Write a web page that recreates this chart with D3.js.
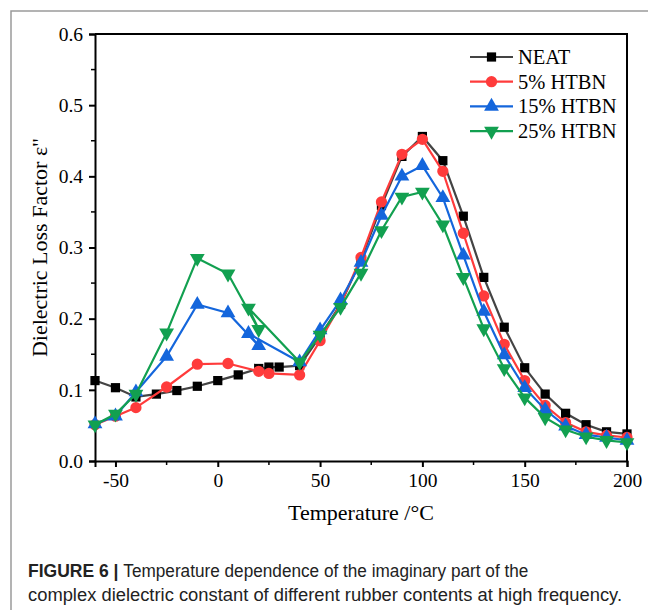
<!DOCTYPE html>
<html>
<head>
<meta charset="utf-8">
<script src="https://cdn.jsdelivr.net/npm/d3@7"></script>
<style>
  body { margin: 0; background: #fff; }
  svg { display: block; }
</style>
</head>
<body>
<svg id="chart" width="648" height="610"></svg>
<script>
// temperatures and loss factor values
var tempsNeat = [-60, -50, -40, -30, -20, -10, 0, 10, 20, 25, 30, 40, 50, 60, 70, 80, 90, 100, 110, 120, 130, 140, 150, 160, 170, 180, 190, 200];
var valsNeat = [0.113, 0.103, 0.090, 0.094, 0.099, 0.105, 0.113, 0.121, 0.130, 0.132, 0.132, 0.134, 0.175, 0.220, 0.283, 0.359, 0.428, 0.456, 0.422, 0.344, 0.258, 0.188, 0.131, 0.094, 0.067, 0.051, 0.041, 0.038];

var temps5 = [-60, -50, -40, -25, -10, 5, 20, 25, 40, 50, 60, 70, 80, 90, 100, 110, 120, 130, 140, 150, 160, 170, 180, 190, 200];
var vals5 = [0.051, 0.063, 0.075, 0.104, 0.136, 0.137, 0.126, 0.123, 0.121, 0.169, 0.220, 0.286, 0.364, 0.431, 0.452, 0.407, 0.320, 0.232, 0.164, 0.113, 0.078, 0.054, 0.041, 0.036, 0.033];

var temps15 = [-60, -50, -40, -25, -10, 5, 20, 15, 40, 50, 60, 70, 80, 90, 100, 110, 120, 130, 140, 150, 160, 170, 180, 190, 200];
var vals15 = [0.052, 0.063, 0.097, 0.147, 0.220, 0.208, 0.162, 0.179, 0.139, 0.184, 0.226, 0.279, 0.345, 0.400, 0.415, 0.370, 0.289, 0.210, 0.149, 0.103, 0.072, 0.049, 0.037, 0.033, 0.029];

var temps25 = [-60, -50, -40, -25, -10, 5, 20, 15, 40, 50, 60, 70, 80, 90, 100, 110, 120, 130, 140, 150, 160, 170, 180, 190, 200];
var vals25 = [0.051, 0.066, 0.094, 0.180, 0.285, 0.263, 0.185, 0.215, 0.139, 0.177, 0.216, 0.264, 0.324, 0.371, 0.378, 0.332, 0.258, 0.186, 0.130, 0.089, 0.061, 0.044, 0.034, 0.029, 0.026];

var seriesNames = ["NEAT", "5% HTBN", "15% HTBN", "25% HTBN"];
var xTicks = [-50, 0, 50, 100, 150, 200];
var yTicks = [0.0, 0.1, 0.2, 0.3, 0.4, 0.5, 0.6];

var series = [
    {name: seriesNames[0], t: tempsNeat, v: valsNeat, color: "#000000", line: "#444444", sym: d3.symbolSquare, size: 85, rot: 0},
    {name: seriesNames[1], t: temps5, v: vals5, color: "#FF3B3B", line: "#FF3B3B", sym: d3.symbolCircle, size: 100, rot: 0},
    {name: seriesNames[2], t: temps15, v: vals15, color: "#1466DC", line: "#1466DC", sym: d3.symbolTriangle, size: 95, rot: 0},
    {name: seriesNames[3], t: temps25, v: vals25, color: "#12A050", line: "#12A050", sym: d3.symbolTriangle, size: 95, rot: 180}
];

var svg = d3.select("#chart");
var pLeft = 95, pRight = 627, pTop = 34, pBottom = 461;

// page frame
svg.append("path")
    .attr("d", "M11,610 L11,11 L648,11")
    .attr("fill", "none")
    .attr("stroke", "#9a9a9a")
    .attr("stroke-width", 1.5);

var x = d3.scaleLinear().domain([-60, 200]).range([pLeft, pRight]);
var y = d3.scaleLinear().domain([0, 0.6]).range([pBottom, pTop]);

var serif = "'Liberation Serif', 'Times New Roman', serif";

// axes
var xAxis = d3.axisBottom(x).tickValues(xTicks).tickSize(6).tickPadding(6)
    .tickFormat(function(d) { return String(d); });
var gx = svg.append("g").attr("transform", "translate(0," + pBottom + ")").call(xAxis);
gx.selectAll("line").attr("stroke-width", 2);
// minor ticks
gx.selectAll(".minor").data([-25, 25, 75, 125, 175]).enter().append("line")
    .attr("class", "minor")
    .attr("x1", function(d) { return x(d); }).attr("x2", function(d) { return x(d); })
    .attr("y1", 0).attr("y2", 4)
    .attr("stroke", "#000").attr("stroke-width", 1.5);

var yAxis = d3.axisLeft(y).tickValues(yTicks).tickSize(6).tickPadding(6).tickFormat(d3.format(".1f"));
var gy = svg.append("g").attr("transform", "translate(" + pLeft + ",0)").call(yAxis);
gy.selectAll("line").attr("stroke-width", 2);
gy.selectAll(".minor").data([0.05, 0.15, 0.25, 0.35, 0.45, 0.55]).enter().append("line")
    .attr("class", "minor")
    .attr("y1", function(d) { return y(d); }).attr("y2", function(d) { return y(d); })
    .attr("x1", 0).attr("x2", -4)
    .attr("stroke", "#000").attr("stroke-width", 1.5);

[gx, gy].forEach(function(g) {
    g.select(".domain").attr("stroke-width", 2);
    g.selectAll("text").attr("font-family", serif).attr("font-size", 19.5).attr("fill", "#000");
});

// top and right frame lines
svg.append("path")
    .attr("d", "M" + pLeft + "," + pTop + " L" + pRight + "," + pTop + " L" + pRight + "," + pBottom)
    .attr("fill", "none").attr("stroke", "#000").attr("stroke-width", 2);

// lines and markers
var line = d3.line()
    .x(function(d) { return x(d[0]); })
    .y(function(d) { return y(d[1]); });

series.forEach(function(s) {
    var pts = s.t.map(function(t, i) { return [t, s.v[i]]; });
    svg.append("path")
        .datum(pts)
        .attr("d", line)
        .attr("fill", "none")
        .attr("stroke", s.line)
        .attr("stroke-width", 2.2);
    svg.selectAll(null).data(pts).enter().append("path")
        .attr("d", d3.symbol().type(s.sym).size(s.size))
        .attr("transform", function(d) { return "translate(" + x(d[0]) + "," + y(d[1]) + ") rotate(" + s.rot + ")"; })
        .attr("fill", s.color);
});

// legend
var legend = svg.append("g").attr("transform", "translate(470,57)");
series.forEach(function(s, i) {
    var g = legend.append("g").attr("transform", "translate(0," + (i * 24.7) + ")");
    g.append("line").attr("x1", 0).attr("x2", 43).attr("y1", 0).attr("y2", 0)
        .attr("stroke", s.line).attr("stroke-width", 2.2);
    g.append("path")
        .attr("d", d3.symbol().type(s.sym).size(s.size))
        .attr("transform", "translate(21.5,0) rotate(" + s.rot + ")")
        .attr("fill", s.color);
    g.append("text").attr("x", 48).attr("y", 7)
        .attr("font-family", serif).attr("font-size", 20.5)
        .text(s.name);
});

// axis titles
svg.append("text")
    .attr("x", (pLeft + pRight) / 2).attr("y", 520)
    .attr("text-anchor", "middle")
    .attr("font-family", serif).attr("font-size", 22)
    .text("Temperature /°C");

svg.append("text")
    .attr("transform", "translate(47," + ((pTop + pBottom) / 2) + ") rotate(-90)")
    .attr("text-anchor", "middle")
    .attr("font-family", serif).attr("font-size", 22)
    .text("Dielectric Loss Factor ε\"");

// caption
var cap = svg.append("text")
    .attr("font-family", "'Liberation Sans', Arial, sans-serif")
    .attr("font-size", 17.5).attr("fill", "#222");
var l1 = cap.append("tspan").attr("x", 28).attr("y", 577);
l1.append("tspan").attr("font-weight", "bold").text("FIGURE 6 | ");
l1.append("tspan").attr("textLength", 405).attr("lengthAdjust", "spacingAndGlyphs")
    .text("Temperature dependence of the imaginary part of the");
cap.append("tspan").attr("x", 28).attr("y", 601)
    .attr("textLength", 594).attr("lengthAdjust", "spacingAndGlyphs")
    .text("complex dielectric constant of different rubber contents at high frequency.");
</script>
</body>
</html>
